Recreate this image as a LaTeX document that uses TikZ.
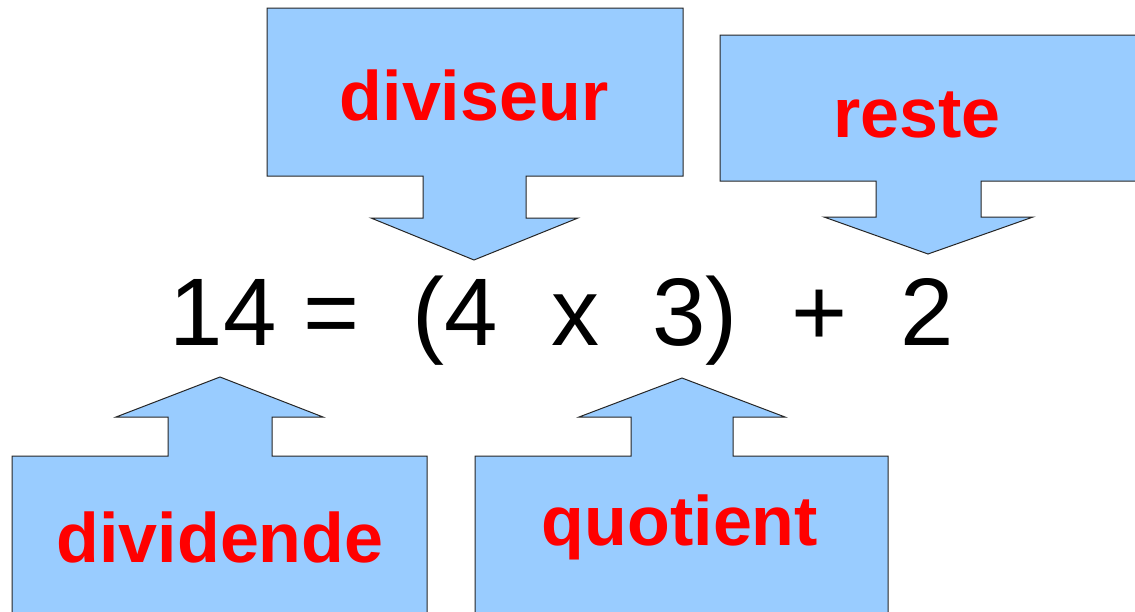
\documentclass[tikz,border=0pt]{standalone}
\usepackage{fontspec}
\setmainfont{Liberation Sans}
\usepackage{tikz}
\definecolor{bleubulle}{RGB}{153,204,255}
\definecolor{rougetexte}{RGB}{255,0,0}
\tikzset{
  bulle/.style={fill=bleubulle, draw=black!85, line width=1pt, line join=miter},
  etiq/.style={anchor=base, inner sep=0pt, text=rougetexte,
    font=\fontsize{70}{80}\selectfont\bfseries},
  egalite/.style={anchor=base, inner sep=0pt, text=black,
    font=\fontsize{96}{110}\selectfont}
}

\begin{document}
\begin{tikzpicture}[x=1pt, y=-1pt]
  \useasboundingbox (0,0) rectangle (1135,611);
  \clip (0,0) rectangle (1135,611);
  % bulles du haut
  \draw[bulle] (267,8) -- (683,8) -- (683,176) -- (526,176) -- (526,218) -- (578,218)
    -- (474,260) -- (371,218) -- (423,218) -- (423,176) -- (267,176) -- cycle;
  \draw[bulle] (720,35) -- (1145,35) -- (1145,181) -- (981,181) -- (981,217) -- (1033,217)
    -- (928,254) -- (824,217) -- (876,217) -- (876,181) -- (720,181) -- cycle;
  % bulles du bas
  \draw[bulle] (12,620) -- (12,456) -- (168,456) -- (168,417) -- (116,417) -- (220,377)
    -- (323,417) -- (272,417) -- (272,456) -- (427,456) -- (427,620);
  \draw[bulle] (475,620) -- (475,456) -- (631,456) -- (631,417) -- (579,417) -- (682,378)
    -- (785,417) -- (733,417) -- (733,456) -- (888,456) -- (888,620);
  \node[etiq] (diviseur) at (474,120) {diviseur};
  \node[etiq] (reste) at (917,137) {reste};
  \node[etiq] (dividende) at (220,562) {dividende};
  \node[etiq] (quotient) at (680,545) {quotient};
  \node[egalite] (calcul) at (562,345) {14 =\ \ (4\ \ x\ \ 3)\ \ +\ \ 2};
\end{tikzpicture}
\end{document}
